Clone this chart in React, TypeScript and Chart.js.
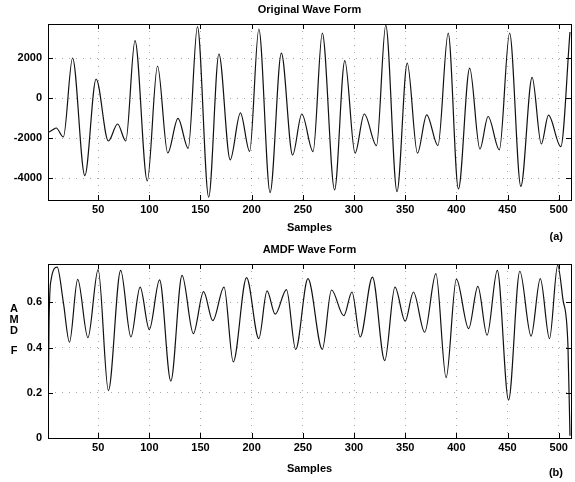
import React, { useEffect, useRef } from 'react';
import { Chart, registerables } from 'chart.js';

Chart.register(...registerables);

// ---- Data ----
const origSamples = [2, 6, 9, 16, 25, 37, 48, 60, 69, 77, 86, 98, 108, 118, 128, 138, 147, 158, 168, 179, 189, 198, 207, 218, 229, 240, 249, 260, 269, 281, 291, 301, 310, 322, 331, 342, 352, 362, 371, 382, 392, 402, 413, 423, 431, 442, 452, 463, 474, 483, 490, 502, 511];
const origValues = [-1700, -1580, -1500, -1950, 2000, -3880, 950, -2150, -1300, -2150, 2870, -4150, 1600, -2750, -1020, -2520, 3570, -4960, 2200, -3090, -740, -2670, 3450, -4730, 2240, -2850, -800, -2680, 3240, -4590, 1870, -2760, -800, -2380, 3640, -4680, 1740, -2760, -840, -2380, 3240, -4550, 1490, -2550, -925, -2590, 3250, -4420, 1030, -2300, -860, -2430, 3300];

const amdfLags = [1, 2, 4, 10, 16, 22, 30, 40, 50, 60, 72, 82, 91, 100, 110, 121, 132, 143, 153, 162, 173, 182, 195, 207, 215, 223, 234, 243, 255, 269, 278, 290, 298, 306, 318, 330, 340, 350, 358, 369, 380, 390, 400, 412, 421, 430, 440, 451, 462, 473, 482, 491, 499, 504, 509, 511];
const amdfValues = [0, 0.5, 0.7, 0.756, 0.6, 0.424, 0.702, 0.444, 0.745, 0.21, 0.742, 0.447, 0.668, 0.48, 0.7, 0.252, 0.72, 0.462, 0.648, 0.519, 0.668, 0.337, 0.71, 0.44, 0.651, 0.548, 0.657, 0.392, 0.705, 0.392, 0.655, 0.541, 0.646, 0.447, 0.712, 0.342, 0.668, 0.517, 0.646, 0.468, 0.727, 0.267, 0.703, 0.484, 0.671, 0.455, 0.742, 0.168, 0.738, 0.451, 0.705, 0.44, 0.764, 0.617, 0.41, 0.01];

const sampleTicks = [50, 100, 150, 200, 250, 300, 350, 400, 450, 500];
const origTicks = [-4000, -2000, 0, 2000];
const amdfTicks = [0, 0.2, 0.4, 0.6];

const titles = ['Original Wave Form', 'AMDF Wave Form'];
const panelTags = ['(a)', '(b)'];
const xAxisTitle = 'Samples';
const amdfLetters = ['A', 'M', 'D', 'F'];

const FONT = "'Liberation Sans', Arial, Helvetica, sans-serif";

type PanelCfg = {
  xs: number[];
  ys: number[];
  yMin: number;
  yMax: number;
  yTicks: number[];
  title: string;
  tag: string;
  tagY: number;
  height: number;
  top: number;
  xAxisHeight: number;
  xTitlePad: number;
  letters?: string[];
  lettersY?: number[];
};

function makePlugin(cfg: PanelCfg) {
  return {
    id: 'matlabBox',
    afterDraw(chart: any) {
      const { ctx, chartArea } = chart;
      const { left, right, top, bottom } = chartArea;
      ctx.save();
      ctx.strokeStyle = '#000';
      ctx.lineWidth = 1;
      ctx.strokeRect(Math.round(left) + 0.5, Math.round(top) + 0.5, Math.round(right - left), Math.round(bottom - top));
      // inward tick marks
      const xs = chart.scales.x;
      const ys = chart.scales.y;
      ctx.beginPath();
      xs.ticks.forEach((t: any) => {
        const px = Math.round(xs.getPixelForValue(t.value)) + 0.5;
        ctx.moveTo(px, bottom);
        ctx.lineTo(px, bottom - 5);
        ctx.moveTo(px, top);
        ctx.lineTo(px, top + 5);
      });
      ys.ticks.forEach((t: any) => {
        const py = Math.round(ys.getPixelForValue(t.value)) + 0.5;
        ctx.moveTo(left, py);
        ctx.lineTo(left + 5, py);
        ctx.moveTo(right, py);
        ctx.lineTo(right - 5, py);
      });
      ctx.stroke();
      // title
      ctx.fillStyle = '#000';
      ctx.font = `bold 11px ${FONT}`;
      ctx.textAlign = 'center';
      ctx.textBaseline = 'middle';
      ctx.fillText(cfg.title, (left + right) / 2, top - 14);
      // panel tag
      ctx.textAlign = 'right';
      ctx.fillText(cfg.tag, 563, cfg.tagY);
      // stacked y label letters
      if (cfg.letters && cfg.lettersY) {
        ctx.textAlign = 'center';
        cfg.letters.forEach((l, i) => ctx.fillText(l, 14, cfg.lettersY![i]));
      }
      ctx.restore();
    },
  };
}

function Panel({ cfg }: { cfg: PanelCfg }) {
  const ref = useRef<HTMLCanvasElement | null>(null);
  useEffect(() => {
    if (!ref.current) return;
    const data = cfg.xs.map((x, i) => ({ x, y: cfg.ys[i] }));
    const chart = new Chart(ref.current, {
      type: 'line',
      data: {
        datasets: [
          {
            data,
            borderColor: '#111',
            borderWidth: 1.2,
            pointRadius: 0,
            fill: false,
            cubicInterpolationMode: 'monotone',
          },
        ],
      },
      options: {
        responsive: false,
        animation: false,
        events: [],
        layout: { padding: { top: cfg.top, right: 4, left: 0, bottom: 0 } },
        plugins: { legend: { display: false }, title: { display: false }, tooltip: { enabled: false } },
        scales: {
          x: {
            type: 'linear',
            min: 1,
            max: 512,
            afterFit: (s: any) => { s.height = cfg.xAxisHeight; },
            afterBuildTicks: (s: any) => { s.ticks = sampleTicks.map((v) => ({ value: v })); },
            ticks: {
              padding: 3,
              color: '#000',
              font: { family: FONT, size: 11, weight: 'bold' },
              maxRotation: 0,
              callback: (v: any) => String(v),
            },
            grid: { color: 'rgba(0,0,0,0.35)', drawTicks: false, borderDash: [1, 6] } as any,
            border: { display: false, dash: [1, 6] },
            title: {
              display: true,
              text: xAxisTitle,
              color: '#000',
              font: { family: FONT, size: 11, weight: 'bold' },
              padding: { top: 0, bottom: cfg.xTitlePad },
            },
          },
          y: {
            type: 'linear',
            min: cfg.yMin,
            max: cfg.yMax,
            afterFit: (s: any) => { s.width = 48; },
            afterBuildTicks: (s: any) => { s.ticks = cfg.yTicks.map((v) => ({ value: v })); },
            ticks: {
              padding: 6,
              color: '#000',
              font: { family: FONT, size: 11, weight: 'bold' },
              callback: (v: any) => String(v),
            },
            grid: { color: 'rgba(0,0,0,0.35)', drawTicks: false, borderDash: [1, 6] } as any,
            border: { display: false, dash: [1, 6] },
          },
        },
      },
      plugins: [makePlugin(cfg)],
    } as any);
    return () => chart.destroy();
  }, [cfg]);
  return <canvas ref={ref} width={575} height={cfg.height} style={{ display: 'block' }} />;
}

const topCfg: PanelCfg = {
  xs: origSamples,
  ys: origValues,
  yMin: -5100,
  yMax: 3700,
  yTicks: origTicks,
  title: titles[0],
  tag: panelTags[0],
  tagY: 237,
  height: 243,
  top: 24,
  xAxisHeight: 43,
  xTitlePad: 8,
};

const bottomCfg: PanelCfg = {
  xs: amdfLags,
  ys: amdfValues,
  yMin: 0,
  yMax: 0.77,
  yTicks: amdfTicks,
  title: titles[1],
  tag: panelTags[1],
  tagY: 230,
  height: 239,
  top: 21,
  xAxisHeight: 44,
  xTitlePad: 6,
  letters: amdfLetters,
  lettersY: [66, 77, 88, 108],
};

export default function App() {
  return (
    <div style={{ position: 'absolute', left: 0, top: 0, width: 575, height: 482, background: '#fff' }}>
      <Panel cfg={topCfg} />
      <Panel cfg={bottomCfg} />
    </div>
  );
}
